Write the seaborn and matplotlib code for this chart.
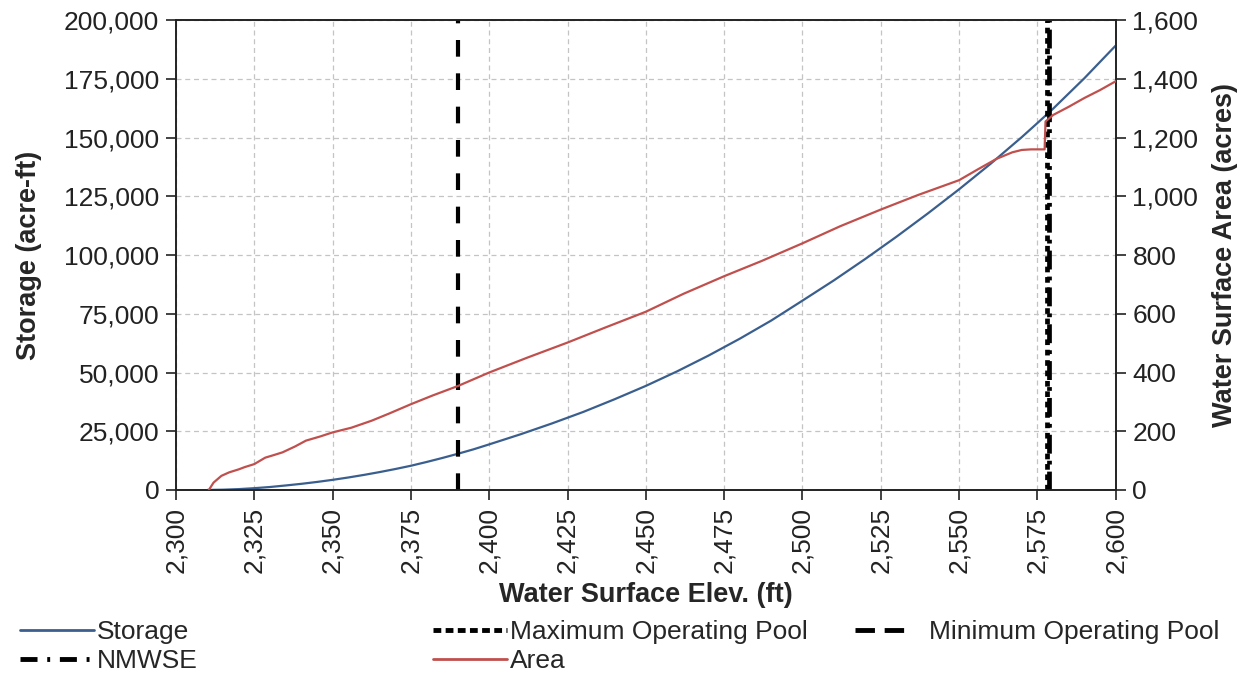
import matplotlib
matplotlib.use("Agg")
import matplotlib.pyplot as plt
from matplotlib.lines import Line2D
from matplotlib.ticker import FuncFormatter, MultipleLocator
import seaborn as sns
import pandas as pd

# Elevation-storage curve (ft, acre-ft)
storage_elev = [2310, 2315, 2320, 2325, 2330, 2335, 2340, 2345, 2350, 2355,
                2360, 2365, 2370, 2375, 2380, 2385, 2390, 2395, 2400, 2410,
                2420, 2430, 2440, 2450, 2460, 2470, 2480, 2490, 2500, 2510,
                2520, 2530, 2540, 2550, 2560, 2570, 2575, 2580, 2590, 2600]
storage_acft = [0, 100, 350, 750, 1250, 1900, 2600, 3400, 4300, 5300,
                6400, 7600, 8900, 10300, 11900, 13600, 15400, 17300, 19400, 23700,
                28300, 33200, 38600, 44300, 50500, 57200, 64400, 72100, 80600, 89200,
                98300, 107800, 117700, 128000, 138800, 150200, 156200, 162300, 175300, 189200]

# Elevation-area curve (ft, acres)
area_elev = [2310.5, 2312, 2314.5, 2317, 2320, 2322, 2325, 2328.5, 2331, 2334,
             2338, 2341.5, 2346, 2350, 2356, 2362.5, 2368, 2375, 2382, 2390,
             2400, 2412, 2425, 2437, 2450, 2462, 2475, 2487, 2500, 2512,
             2525, 2537, 2550, 2556, 2562, 2567, 2570, 2573, 2576, 2577.3,
             2577.6, 2580, 2585, 2590, 2595, 2600]
area_acres = [0, 25, 48, 60, 70, 78, 88, 110, 118, 128,
              148, 168, 182, 196, 212, 236, 260, 292, 322, 354,
              400, 450, 502, 553, 607, 668, 728, 780, 840, 898,
              955, 1005, 1055, 1092, 1128, 1150, 1158, 1160, 1160, 1160,
              1255, 1277, 1305, 1335, 1362, 1392]

# Operating levels (ft)
min_operating_pool = 2390.0
max_operating_pool = 2578.2
nmwse = 2578.6

storage_color = "#3A5F8E"
area_color = "#C0504D"

sns.set_style("ticks")
plt.rcParams["font.family"] = ["Liberation Sans", "DejaVu Sans"]

fig = plt.figure(figsize=(12.48, 6.73), dpi=100)
ax = fig.add_axes([0.141, 0.272, 0.753, 0.698])
ax2 = ax.twinx()

storage_df = pd.DataFrame({"elev": storage_elev, "storage": storage_acft})
area_df = pd.DataFrame({"elev": area_elev, "area": area_acres})

sns.lineplot(data=storage_df, x="elev", y="storage", ax=ax, color=storage_color,
             linewidth=1.6, zorder=3)
sns.lineplot(data=area_df, x="elev", y="area", ax=ax2, color=area_color,
             linewidth=1.6, zorder=3)

ax.axvline(min_operating_pool, color="black", linewidth=3.0, dashes=(4, 4), zorder=4)
ax.axvline(max_operating_pool, color="black", linewidth=3.4, dashes=(1.2, 1.0), zorder=4)
ax.axvline(nmwse, color="black", linewidth=3.4, dashes=(4, 1.5, 0.8, 1.5), zorder=4)

ax.set_xlim(2300, 2600)
ax.set_ylim(0, 200000)
ax2.set_ylim(0, 1600)
ax.xaxis.set_major_locator(MultipleLocator(25))
ax.yaxis.set_major_locator(MultipleLocator(25000))
ax2.yaxis.set_major_locator(MultipleLocator(200))
comma = FuncFormatter(lambda v, p: f"{v:,.0f}")
ax.xaxis.set_major_formatter(comma)
ax.yaxis.set_major_formatter(comma)
ax2.yaxis.set_major_formatter(comma)

ax.grid(True, color="#C4C4C4", linestyle=(0, (4, 3)), linewidth=0.9)
ax.set_axisbelow(True)

tick_fs = 19
ax.tick_params(axis="x", labelsize=tick_fs, labelrotation=90, length=7, width=1.2,
               direction="out", colors="#222222", pad=5)
ax.tick_params(axis="y", labelsize=tick_fs, length=7, width=1.2, direction="out",
               colors="#222222", pad=5)
ax2.tick_params(axis="y", labelsize=tick_fs, length=7, width=1.2, direction="out",
                colors="#222222", pad=5)
for a in (ax, ax2):
    for s in a.spines.values():
        s.set_visible(True)
        s.set_color("#222222")
        s.set_linewidth(1.2)

label_fs = 19.5
ax.set_xlabel("Water Surface Elev. (ft)", fontsize=label_fs, fontweight="bold", labelpad=7)
ax.set_ylabel("Storage (acre-ft)", fontsize=label_fs, fontweight="bold", labelpad=16)
ax2.set_ylabel("Water Surface Area (acres)", fontsize=label_fs, fontweight="bold", labelpad=10)

h_storage = Line2D([], [], color=storage_color, linewidth=2.0)
h_area = Line2D([], [], color=area_color, linewidth=2.0)
h_max = Line2D([], [], color="black", linewidth=3.5, dashes=(1.6, 0.9))
h_min = Line2D([], [], color="black", linewidth=3.5, dashes=(4, 2))
h_nmwse = Line2D([], [], color="black", linewidth=3.5, dashes=(3.5, 2.0, 0.6, 2.0))

leg_fs = 19
leg_kw = dict(frameon=False, fontsize=leg_fs, labelspacing=0.2,
              borderaxespad=0, borderpad=0)
legend_top = 0.079
fig.legend([h_storage, h_nmwse], ["Storage", "NMWSE"], loc="upper left",
           bbox_to_anchor=(0.016, legend_top), handlelength=2.8, handletextpad=0.1, **leg_kw)
fig.legend([h_max, h_area], ["Maximum Operating Pool", "Area"], loc="upper left",
           bbox_to_anchor=(0.347, legend_top), handlelength=2.8, handletextpad=0.1, **leg_kw)
fig.legend([h_min], ["Minimum Operating Pool"], loc="upper left",
           bbox_to_anchor=(0.685, legend_top), handlelength=1.9, handletextpad=0.9, **leg_kw)

fig.savefig("out.png", dpi=100)
